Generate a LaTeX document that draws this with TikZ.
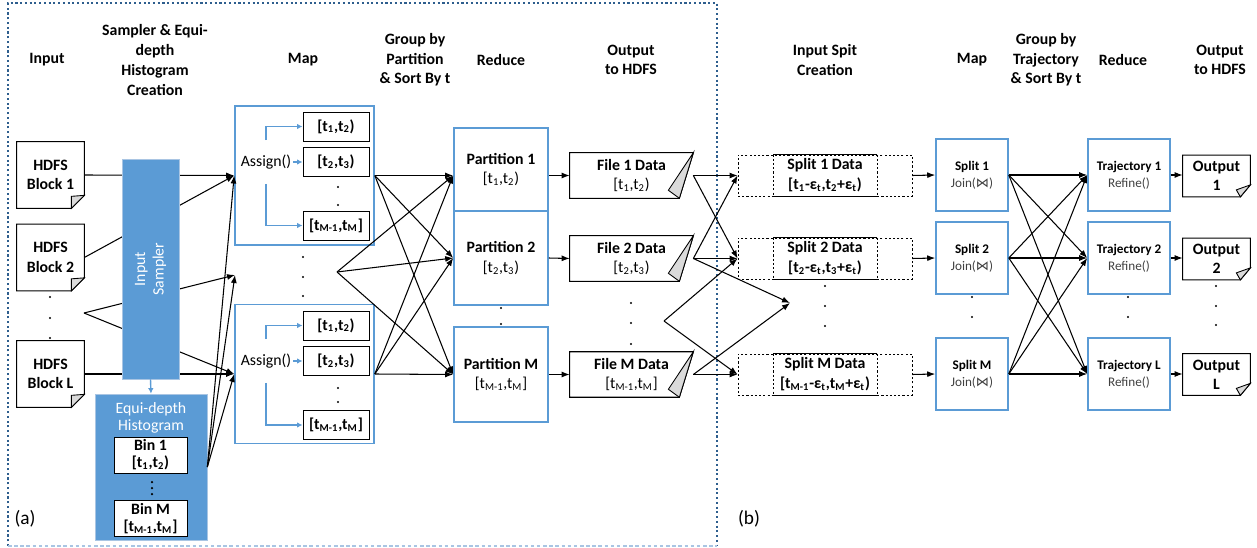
\documentclass[tikz,border=0pt]{standalone}
\usepackage{fontspec}
\setmainfont{Carlito}
\newfontfamily\bowfont{DejaVu Sans}
\usetikzlibrary{arrows.meta,positioning}
\definecolor{mrblue}{HTML}{5B9BD5}
\definecolor{mrpale}{HTML}{A9C5E3}
\definecolor{mrframe}{HTML}{2E5E8E}
\definecolor{mrfold}{HTML}{DADADA}
\definecolor{mrtext}{HTML}{404040}
\newcommand{\subidx}[1]{\textsubscript{#1}}
\newcommand{\rngA}{[t\subidx{1},t\subidx{2})}
\newcommand{\rngB}{[t\subidx{2},t\subidx{3})}
\newcommand{\rngM}{[t\subidx{M-1},t\subidx{M}]}
\newcommand{\joinop}{Join({\bowfont ⋈})}
\tikzset{
  hdr/.style={font=\fontsize{9}{11.2}\selectfont\bfseries, align=center},
  blk/.style={font=\fontsize{9}{11}\selectfont\bfseries, align=center, minimum width=13.4mm, minimum height=13.2mm},
  mapbox/.style={draw=mrblue, line width=0.9pt, minimum width=27.8mm, minimum height=27.8mm},
  cell/.style={draw, line width=0.5pt, fill=white, minimum width=13.2mm, minimum height=5.8mm, inner sep=0pt, font=\fontsize{9}{11}\selectfont\bfseries},
  binbox/.style={draw, line width=0.5pt, fill=white, minimum width=14.6mm, minimum height=7.2mm, inner sep=0pt, align=center, font=\fontsize{9}{9.6}\selectfont\bfseries},
  part/.style={draw=mrblue, line width=0.9pt, minimum width=18.8mm, align=center, font=\fontsize{9}{11.3}\selectfont},
  filebox/.style={minimum width=24.6mm, minimum height=8.2mm, align=center, font=\fontsize{9}{11.3}\selectfont},
  splitbox/.style={draw, line width=0.5pt, dash pattern=on 1.2pt off 1.2pt, minimum width=34.8mm, minimum height=8.2mm, inner sep=0pt, align=center, font=\fontsize{9}{11.3}\selectfont\bfseries},
  joinbox/.style={draw=mrblue, line width=0.9pt, minimum width=14.4mm, minimum height=14.4mm, align=center, font=\fontsize{7.5}{9.6}\selectfont},
  trajbox/.style={joinbox, minimum width=16.4mm},
  outbox/.style={minimum width=13.4mm, minimum height=6.8mm, align=center, font=\fontsize{9}{10.8}\selectfont\bfseries},
  arr/.style={-{Latex[length=1.6mm,width=1.2mm]}, line width=0.6pt},
  barr/.style={-{Latex[length=1.1mm,width=1.1mm]}, draw=mrblue, line width=0.8pt},
  fold/.style={fill=mrfold, draw, line width=0.5pt},
}
\begin{document}
\begin{tikzpicture}[x=0.2mm, y=-0.2mm]
\useasboundingbox (0,0) rectangle (1257,548);

% frame of part (a)
\draw[mrframe, line width=0.9pt, dash pattern=on 1.2pt off 1.5pt] (8,546) -- (8,3) -- (717,3) -- (717,546);
\draw[mrpale, line width=0.9pt, dash pattern=on 2pt off 1.5pt] (8,546) -- (717,546);

% column headers
\node[hdr] (hIn) at (47,60) {Input};
\node[hdr] (hSmp) at (155,60) {Sampler \& Equi-\\depth\\Histogram\\Creation};
\node[hdr] (hMapA) at (303,60) {Map};
\node[hdr] (hGrpA) at (415,60) {Group by\\Partition\\\& Sort By t};
\node[hdr] (hRedA) at (501,60) {Reduce};
\node[hdr] (hOutA) at (631,60) {Output\\to HDFS};
\node[hdr] (hSplit) at (825,60) {Input Spit\\Creation};
\node[hdr] (hMapB) at (972,60) {Map};
\node[hdr] (hGrpB) at (1046,60) {Group by\\Trajectory\\\& Sort By t};
\node[hdr] (hRedB) at (1123,60) {Reduce};
\node[hdr] (hOutB) at (1220,60) {Output\\to HDFS};

% input blocks
\node[blk] (blk1) at (50.5,175) {HDFS\\Block 1};
\node[blk] (blk2) at (50.5,257.5) {HDFS\\Block 2};
\node[blk] (blkL) at (50.5,374) {HDFS\\Block L};
\foreach \n in {blk1,blk2,blkL} {
  \draw[line width=0.6pt] (\n.north west) -- (\n.north east) -- ([yshift=2.6mm]\n.south east) -- ([xshift=-2.6mm]\n.south east) -- (\n.south west) -- cycle;
  \draw[fold] ([yshift=2.6mm]\n.south east) -- ([xshift=-2.6mm,yshift=2.4mm]\n.south east) -- ([xshift=-2.6mm]\n.south east) -- cycle;
}

% map tasks
\node[mapbox] (map1) at (304.5,175.5) {};
\node[mapbox] (map2) at (304.5,374) {};
\node[cell] (m1a) at (336,126.5) {\rngA};
\node[cell] (m1b) at (336,162) {\rngB};
\node[cell] (m1c) at (336,225.5) {\rngM};
\node[cell] (m2a) at (336,325.5) {\rngA};
\node[cell] (m2b) at (336,361) {\rngB};
\node[cell] (m2c) at (336,425) {\rngM};
\node[minimum height=8.6mm, inner xsep=0.3mm, font=\fontsize{9}{11}\selectfont] (asg1) at (266,162) {Assign()};
\node[minimum height=8.6mm, inner xsep=0.3mm, font=\fontsize{9}{11}\selectfont] (asg2) at (266,361) {Assign()};
\foreach \i in {1,2} {
  \draw[barr] (asg\i.north) |- (m\i a.west);
  \draw[barr] (asg\i.east) -- (m\i b.west);
  \draw[barr] (asg\i.south) |- (m\i c.west);
}

\coordinate (inDots) at (84,313);
\coordinate (mapIn) at (235,275);
\coordinate (mapOut) at (337,272);
\coordinate (fileOut) at (664,321);
\coordinate (splitIn) at (790,303);

% blocks into the mappers (behind the sampler)
\draw[arr] (blk1.east) -- (map1.west);
\draw[arr] (blk2.east) -- (map1.west);
\draw[arr] (inDots) -- (mapIn);
\draw[arr] (inDots) -- (map2.west);
\draw[arr] (blkL.east) -- (map2.west);

% sampler and histogram
\node[draw=mrpale, fill=mrblue, text=white, rotate=90, minimum width=44mm, minimum height=11.4mm, align=center, font=\fontsize{9}{10.5}\selectfont] (smp) at (150.5,269) {Input\\Sampler};
\node[draw=mrpale, fill=mrblue, minimum width=22.4mm, minimum height=29.2mm] (hist) at (151,467) {};
\node[text=white, align=center, font=\fontsize{9}{9.6}\selectfont] (histlbl) at (151,417.5) {Equi-depth\\Histogram};
\node[binbox] (bin1) at (150.5,455) {Bin 1\\\rngA};
\node[binbox] (binM) at (150.5,518.5) {Bin M\\\rngM};
\draw[barr] (smp.west) -- (hist.north);
\foreach \y in {482,488,494} \fill (152,\y) circle (0.25mm);
\foreach \t in {map1.west, mapIn, map2.west} \draw[arr] (hist.east) -- (\t);

% reducers and their files
\node[part, minimum height=16.6mm] (p1) at (501,169.5) {\textbf{Partition 1}\\\rngA};
\node[part, minimum height=18.8mm] (p2) at (501,258) {\textbf{Partition 2}\\\rngB};
\node[part, minimum height=19mm] (pM) at (501,374.5) {\textbf{Partition M}\\\rngM};
\coordinate (p1in) at (p1.west |- map1.east);
\foreach \s in {map1.east, mapOut, map2.east}
  \foreach \t in {p1in, p2.west, pM.west}
    \draw[arr] (\s) -- (\t);

\node[filebox] (f1) at (631.5,175.5) {\textbf{File 1 Data}\\\rngA};
\node[filebox] (f2) at (631.5,258.5) {\textbf{File 2 Data}\\\rngB};
\node[filebox] (fM) at (631.5,374.5) {\textbf{File M Data}\\\rngM};
\foreach \n in {f1,f2,fM} {
  \draw[line width=0.6pt] (\n.north west) -- (\n.north east) -- ([xshift=-2.8mm]\n.south east) -- (\n.south west) -- cycle;
  \draw[fold] (\n.north east) -- ([xshift=-5mm,yshift=1.6mm]\n.south east) -- ([xshift=-2.8mm]\n.south east) -- cycle;
}
\draw[arr] (f1.west -| p1.east) -- (f1.west);
\draw[arr] (p2.east) -- (f2.west);
\draw[arr] (pM.east) -- (fM.west);

% input splits of part (b)
\node[splitbox] (sd1) at (825,175.5) {Split 1 Data\\{}[t\subidx{1}-ε\subidx{t},t\subidx{2}+ε\subidx{t})};
\node[splitbox] (sd2) at (825,258.5) {Split 2 Data\\{}[t\subidx{2}-ε\subidx{t},t\subidx{3}+ε\subidx{t})};
\node[splitbox] (sdM) at (825,374.5) {Split M Data\\{}[t\subidx{M-1}-ε\subidx{t},t\subidx{M}+ε\subidx{t})};
\foreach \n in {sd1,sd2,sdM} {
  \draw[line width=0.7pt] ([xshift=-10.4mm]\n.north) -- ([xshift=10.4mm]\n.north);
  \draw[line width=0.7pt] ([xshift=-10.4mm]\n.south) -- ([xshift=10.4mm]\n.south);
  \draw[line width=0.5pt, dash pattern=on 1.2pt off 1.2pt] ([xshift=-10.4mm]\n.north) -- ([xshift=-10.4mm]\n.south);
  \draw[line width=0.5pt, dash pattern=on 1.2pt off 1.2pt] ([xshift=10.4mm]\n.north) -- ([xshift=10.4mm]\n.south);
}
\draw[arr] (f1.east) -- (sd1.west);
\draw[arr] (f1.east) -- (sd2.west);
\draw[arr] (f2.east) -- (sd1.west);
\draw[arr] (f2.east) -- (sd2.west);
\draw[arr] (f2.east) -- (splitIn);
\draw[arr] (fileOut) -- (sd2.west);
\draw[arr] (fileOut) -- (sdM.west);
\draw[arr] (fM.east) -- (sdM.west);
\draw[arr] (fM.east) -- (splitIn);

% join mappers, trajectory reducers, outputs
\node[joinbox] (ms1) at (972,175) {\textbf{Split 1}\\{\color{mrtext}\joinop}};
\node[joinbox] (ms2) at (972,258) {\textbf{Split 2}\\{\color{mrtext}\joinop}};
\node[joinbox] (msM) at (972,374) {\textbf{Split M}\\{\color{mrtext}\joinop}};
\node[trajbox] (tr1) at (1129,175) {\textbf{Trajectory 1}\\{\color{mrtext}Refine()}};
\node[trajbox] (tr2) at (1129,258) {\textbf{Trajectory 2}\\{\color{mrtext}Refine()}};
\node[trajbox] (trL) at (1129,374) {\textbf{Trajectory L}\\{\color{mrtext}Refine()}};
\node[outbox] (o1) at (1216.5,176) {Output\\1};
\node[outbox] (o2) at (1216.5,259) {Output\\2};
\node[outbox] (oL) at (1216.5,374.5) {Output\\L};
\foreach \n in {o1,o2,oL} {
  \draw[line width=0.6pt] (\n.north west) -- (\n.north east) -- ([yshift=2.4mm]\n.south east) -- ([xshift=-2mm]\n.south east) -- (\n.south west) -- cycle;
  \draw[fold] ([yshift=2.4mm]\n.south east) -- ([xshift=-2.8mm,yshift=1.4mm]\n.south east) -- ([xshift=-2mm]\n.south east) -- cycle;
}
\draw[arr] (sd1.east) -- (ms1.west);
\draw[arr] (sd2.east) -- (ms2.west);
\draw[arr] (sdM.east) -- (msM.west);
\foreach \s in {ms1,ms2,msM}
  \foreach \t in {tr1,tr2,trL}
    \draw[arr] (\s.east) -- (\t.west);
\draw[arr] (tr1.east) -- (tr1.east -| o1.west);
\draw[arr] (tr2.east) -- (tr2.east -| o2.west);
\draw[arr] (trL.east) -- (trL.east -| oL.west);

% continuation dots
\foreach \x/\y in {50/297,50/318,50/338, 303/257,303/277,303/296, 338/187,338/205,338/388,338/402,
    501/308,501/324, 631/303,631/323,631/344, 825/286,825/306,825/326,
    972/297,972/317, 1128/297,1128/317, 1216/286,1216/306,1216/325}
  \fill (\x,\y) circle (0.22mm);

\node[font=\fontsize{11}{13}\selectfont] (lblA) at (25,519) {(a)};
\node[font=\fontsize{11}{13}\selectfont] (lblB) at (749,519) {(b)};
\end{tikzpicture}
\end{document}
